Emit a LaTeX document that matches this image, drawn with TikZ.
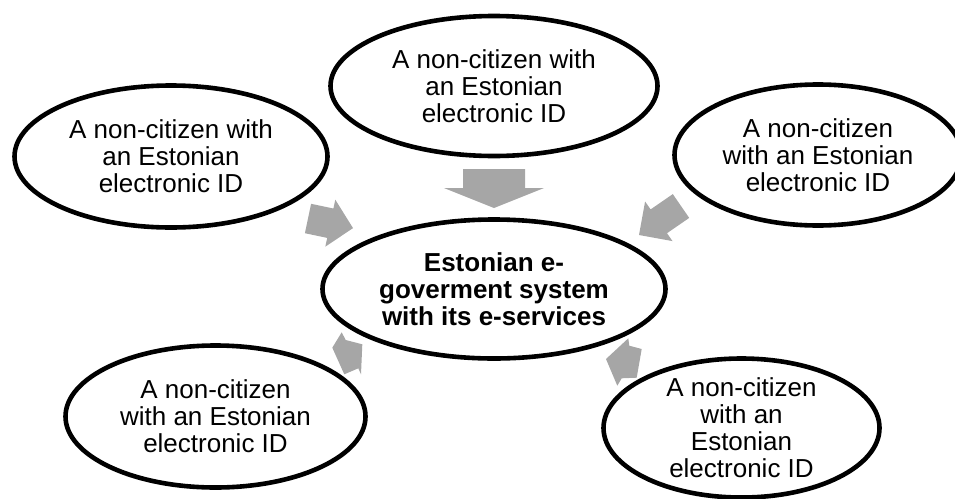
\documentclass[tikz,border=0pt]{standalone}
\usepackage{fontspec}
\setmainfont{Liberation Sans}
\usetikzlibrary{shapes.geometric}
\definecolor{arrowgray}{HTML}{A6A6A6}
\tikzset{
  bub/.style={ellipse, draw=black, line width=4.6pt, fill=white, inner sep=0pt},
  txt/.style={align=center, font=\fontsize{26}{27}\selectfont, inner sep=0pt},
  btxt/.style={align=center, font=\fontsize{26}{27}\selectfont\bfseries, inner sep=0pt},
  blockarrow/.style={fill=arrowgray, draw=none}
}
\begin{document}
\begin{tikzpicture}[x=1pt,y=-1pt]
\useasboundingbox (0,0) rectangle (955,498);
% block arrows
\fill[blockarrow] (463,169) -- (525,169) -- (525,188) -- (544,188) -- (494,208) -- (444,188) -- (463,188) -- cycle;
\fill[blockarrow] (311.1,203.8) -- (333.4,208.5) -- (335.3,199.7) -- (353,228.1) -- (325.3,246.7) -- (327.2,237.9) -- (304.9,233.2) -- cycle;
\fill[blockarrow] (672.8,194.1) -- (689.2,217.9) -- (667,233.2) -- (672.5,241.1) -- (639,235) -- (645.1,201.5) -- (650.6,209.4) -- cycle;
\fill[blockarrow] (341.7,332.3) -- (345.7,340) -- (362.3,344.3) -- (361,374.3) -- (358.3,368.3) -- (344.3,374.3) -- (332.3,347.7) -- cycle;
\fill[blockarrow] (628.3,338.3) -- (629.3,345.7) -- (641.7,349) -- (636.7,377.7) -- (621.7,378.3) -- (617.3,385.7) -- (606,359) -- cycle;
% ellipses
\node[bub, minimum width=327pt, minimum height=140pt] (e1) at (494,86) {};
\node[bub, minimum width=313pt, minimum height=142pt] (e2) at (171,156.5) {};
\node[bub, minimum width=287pt, minimum height=141pt] (e3) at (818,155) {};
\node[bub, minimum width=343pt, minimum height=139pt] (e0) at (494,289) {};
\node[bub, minimum width=300pt, minimum height=142pt] (e4) at (215.5,416.5) {};
\node[bub, minimum width=276pt, minimum height=139pt] (e5) at (741.5,428) {};
% texts
\node[txt] (t1) at (e1) {A non-citizen with\\an Estonian\\electronic ID};
\node[txt] (t2) at (e2) {A non-citizen with\\an Estonian\\electronic ID};
\node[txt] (t3) at (e3) {A non-citizen\\with an Estonian\\electronic ID};
\node[btxt] (t0) at (e0) {Estonian e-\\goverment system\\with its e-services};
\node[txt] (t4) at (e4) {A non-citizen\\with an Estonian\\electronic ID};
\node[txt] (t5) at (e5) {A non-citizen\\with an\\Estonian\\electronic ID};
\end{tikzpicture}
\end{document}
